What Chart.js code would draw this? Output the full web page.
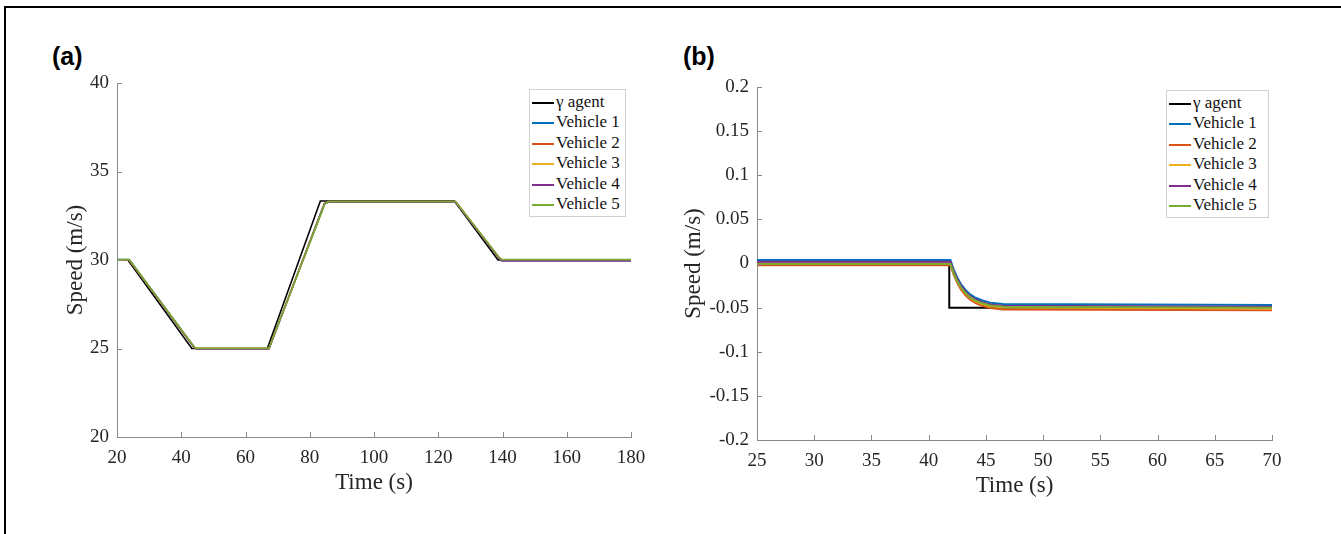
<!DOCTYPE html>
<html lang="en">
<head>
<meta charset="UTF-8">
<title>Speed of gamma agent and vehicles</title>
<script src="https://cdn.jsdelivr.net/npm/chart.js@4/dist/chart.umd.min.js"></script>
<style>
  * { box-sizing: border-box; margin: 0; padding: 0; }
  body { width: 1341px; height: 534px; background: #fff; position: relative; overflow: hidden;
         font-family: 'Liberation Serif', 'Times New Roman', serif; }
  .frame { position: absolute; left: 4px; top: 6px; width: 1400px; height: 600px;
           border-top: 2px solid #000; border-left: 2px solid #000; }
  canvas { position: absolute; top: 0; }
  #chartA { left: 0; }
  #chartB { left: 650px; }
  .tag { position: absolute; font: bold 25px 'Liberation Sans', Arial, sans-serif; color: #000; }
  .legend { position: absolute; background: #fff; border: 1px solid #d0d0d0; padding: 2px 4px 2px 2px; }
  .legend div { height: 20.4px; line-height: 20.4px; font-size: 17px; color: #111; white-space: nowrap; }
  .legend span { display: inline-block; width: 22px; height: 0; vertical-align: middle;
                 margin-right: 2px; border-top: 2px solid; }
</style>
</head>
<body>
<div class="frame"></div>
<div class="tag" style="left:52px;top:42px">(a)</div>
<div class="tag" style="left:683px;top:42px">(b)</div>
<canvas id="chartA" width="650" height="534"></canvas>
<canvas id="chartB" width="691" height="534"></canvas>
<div class="legend" id="legA" style="left:529px;top:89px;width:97px"></div>
<div class="legend" id="legB" style="left:1166px;top:90px;width:103px"></div>

<script>
// ── Data ─────────────────────────────────────────────────────────────────────
const seriesNames = ['\u03b3 agent', 'Vehicle 1', 'Vehicle 2', 'Vehicle 3', 'Vehicle 4', 'Vehicle 5'];
const seriesColors = ['#000000', '#0072BD', '#D95319', '#EDB120', '#7E2F8E', '#77AC30'];

// (a) speed profile, 20–180 s
const timeAgentA = [20, 23.4, 43.3, 66.8, 83.3, 125, 138.6, 180];
const speedAgentA = [30, 30, 25, 25, 33.33, 33.33, 30, 30];
const timeVehA = [20, 23.8, 44.0, 44.6, 67.3, 83.6, 84.6, 85.8, 125.4, 139.0, 139.8, 180];
const speedV1A = [30.02, 30.02, 25.08, 24.99, 24.99, 32.75, 33.18, 33.26, 33.26, 30.12, 29.97, 29.97];
const speedV2A = [30.0, 30.0, 25.06, 25.0, 25.0, 32.72, 33.2, 33.3, 33.3, 30.1, 29.99, 29.99];
const speedV3A = [30.0, 30.0, 25.07, 25.0, 25.0, 32.7, 33.19, 33.29, 33.29, 30.11, 30.0, 30.0];
const speedV4A = [30.01, 30.01, 25.07, 24.99, 24.99, 32.68, 33.18, 33.27, 33.27, 30.1, 29.95, 29.95];
const speedV5A = [30.03, 30.03, 25.1, 25.01, 25.01, 32.65, 33.15, 33.3, 33.3, 30.14, 30.02, 30.02];

// (b) zoom on the step at ~42 s, 25–70 s
const timeAgentB = [25, 41.8, 41.8, 70];
const speedAgentB = [0, 0, -0.05, -0.05];
const timeVehB = [25, 41.9, 42.2, 42.5, 42.8, 43.2, 43.6, 44.1, 44.7, 45.4, 46.5, 70];
const speedV1B = [0.004, 0.004, -0.0072, -0.0159, -0.023, -0.0297, -0.0348, -0.0388, -0.0419, -0.0445, -0.046, -0.047];
const speedV2B = [-0.002, -0.002, -0.0132, -0.0219, -0.029, -0.0357, -0.0408, -0.0448, -0.0479, -0.0505, -0.052, -0.053];
const speedV3B = [0.0005, 0.0005, -0.0108, -0.0196, -0.0268, -0.0335, -0.0386, -0.0428, -0.0459, -0.0484, -0.050, -0.051];
const speedV4B = [0.002, 0.002, -0.0092, -0.0179, -0.025, -0.0317, -0.0368, -0.0408, -0.0439, -0.0465, -0.048, -0.049];
const speedV5B = [-0.0005, -0.0005, -0.0114, -0.0198, -0.0267, -0.0332, -0.0381, -0.0421, -0.0451, -0.0475, -0.049, -0.050];

// ── Helpers ──────────────────────────────────────────────────────────────────
const pts = (xs, ys) => xs.map((x, i) => ({ x, y: ys[i] }));
const SERIF = "'Liberation Serif', 'Times New Roman', serif";

// MATLAB-style inward tick marks on left and bottom axes
const inwardTicks = {
  id: 'inwardTicks',
  afterDraw(chart) {
    const { ctx, chartArea: a, scales: { x, y } } = chart;
    ctx.save();
    ctx.strokeStyle = '#8a8a8a';
    ctx.lineWidth = 1;
    ctx.beginPath();
    x.ticks.forEach((t) => {
      const px = Math.round(x.getPixelForValue(t.value)) + 0.5;
      ctx.moveTo(px, a.bottom); ctx.lineTo(px, a.bottom - 5);
    });
    y.ticks.forEach((t) => {
      const py = Math.round(y.getPixelForValue(t.value)) + 0.5;
      ctx.moveTo(a.left, py); ctx.lineTo(a.left + 5, py);
    });
    ctx.stroke();
    ctx.restore();
  },
};

function makeChart(id, cfg) {
  const datasets = cfg.series.map((s, i) => ({
    label: seriesNames[i],
    data: pts(s[0], s[1]),
    borderColor: seriesColors[i],
    borderWidth: cfg.lineWidth,
    pointRadius: 0,
    tension: 0,
    fill: false,
    order: cfg.series.length - i,
  }));

  const axisCommon = {
    type: 'linear',
    border: { color: '#8a8a8a', width: 1 },
    grid: { display: true, drawOnChartArea: false, drawTicks: false, color: 'rgba(0,0,0,0)' },
  };

  return new Chart(document.getElementById(id), {
    type: 'line',
    data: { datasets },
    options: {
      responsive: false,
      animation: false,
      devicePixelRatio: 1,
      layout: { padding: cfg.padding },
      plugins: { legend: { display: false }, tooltip: { enabled: false } },
      scales: {
        x: {
          ...axisCommon,
          min: cfg.xMin, max: cfg.xMax,
          // fixed height; label overflow is covered by the layout padding
          afterFit: (s) => { s.height = 60; s.paddingLeft = 0; s.paddingRight = 0; },
          ticks: { stepSize: cfg.xStep, padding: 10, color: '#262626',
                   font: { family: SERIF, size: 19 }, maxRotation: 0 },
          title: { display: true, text: 'Time (s)', color: '#262626',
                   font: { family: SERIF, size: 23 }, padding: 0 },
        },
        y: {
          ...axisCommon,
          min: cfg.yMin, max: cfg.yMax,
          afterFit: (s) => { s.width = cfg.yWidth; },
          ticks: { stepSize: cfg.yStep, padding: 8, color: '#262626',
                   font: { family: SERIF, size: 19 },
                   callback: (v) => String(Number(v.toFixed(2))) },
          title: { display: true, text: 'Speed (m/s)', color: '#262626',
                   font: { family: SERIF, size: 23 }, padding: 0 },
        },
      },
    },
    plugins: [inwardTicks],
  });
}

function makeLegend(id) {
  document.getElementById(id).innerHTML = seriesNames
    .map((n, i) => `<div><span style="border-color:${seriesColors[i]}"></span>${n}</div>`)
    .join('');
}

// ── Charts ───────────────────────────────────────────────────────────────────
makeChart('chartA', {
  series: [[timeAgentA, speedAgentA], [timeVehA, speedV1A], [timeVehA, speedV2A],
           [timeVehA, speedV3A], [timeVehA, speedV4A], [timeVehA, speedV5A]],
  lineWidth: 1.6,
  padding: { left: 62, top: 83, right: 19, bottom: 37 },
  yWidth: 55,
  xMin: 20, xMax: 180, xStep: 20,
  yMin: 20, yMax: 40, yStep: 5,
});

makeChart('chartB', {
  series: [[timeAgentB, speedAgentB], [timeVehB, speedV1B], [timeVehB, speedV2B],
           [timeVehB, speedV3B], [timeVehB, speedV4B], [timeVehB, speedV5B]],
  lineWidth: 2,
  padding: { left: 30, top: 87, right: 69, bottom: 34 },
  yWidth: 77,
  xMin: 25, xMax: 70, xStep: 5,
  yMin: -0.2, yMax: 0.2, yStep: 0.05,
});

makeLegend('legA');
makeLegend('legB');
</script>
</body>
</html>
